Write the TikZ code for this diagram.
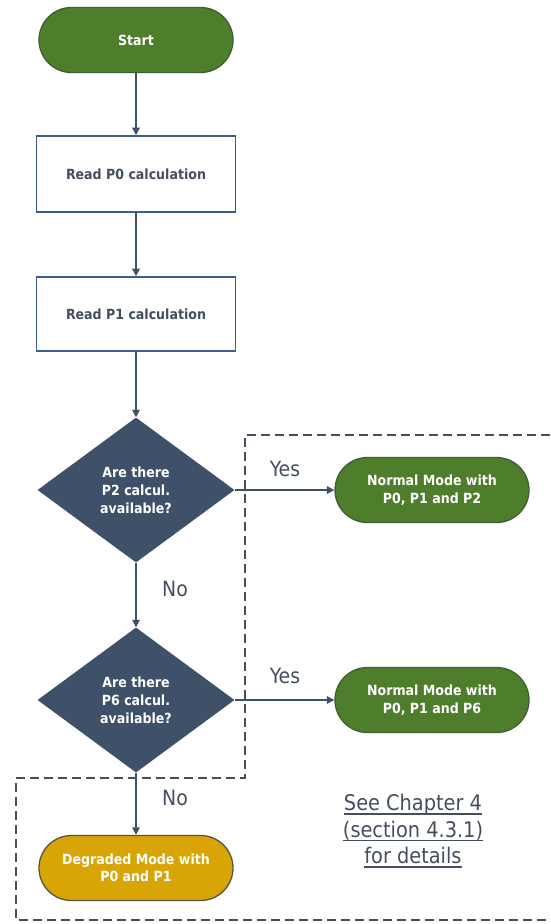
\documentclass[tikz,border=0pt]{standalone}
\usepackage{fontspec}
\setmainfont{DejaVu Sans Condensed}
\usetikzlibrary{shapes.geometric,shapes.misc,arrows.meta}

\definecolor{flowgreen}{HTML}{4E7D2B}
\definecolor{greenedge}{HTML}{3E5F33}
\definecolor{slate}{HTML}{3F5069}
\definecolor{boxedge}{HTML}{3E5C94}
\definecolor{linkink}{HTML}{454E5E}
\definecolor{degraded}{HTML}{D9A406}
\definecolor{degradededge}{HTML}{5A5540}

% underlined line of text with a thicker rule
\newcommand\thickul[1]{\setbox0\hbox{#1}\rlap{\color{linkink}\rule[-4pt]{\wd0}{1.4pt}}\box0}

\tikzset{
  terminal/.style={rounded rectangle, draw=greenedge, line width=1.3pt,
    fill=flowgreen, text=white, font=\bfseries\fontsize{14}{17.5}\selectfont,
    minimum width=198pt, minimum height=65pt, align=center, inner sep=2pt},
  procbox/.style={rectangle, draw=boxedge, line width=1.6pt, fill=white,
    text=linkink, font=\bfseries\fontsize{14}{17.5}\selectfont,
    minimum width=199pt, align=center},
  decision/.style={diamond, fill=slate, text=white,
    font=\bfseries\fontsize{14}{18}\selectfont, align=center,
    minimum width=197pt, minimum height=145pt, inner sep=0pt},
  flow/.style={draw=slate, line width=1.6pt,
    -{Triangle[length=7.5pt,width=7.5pt]}},
  answer/.style={text=linkink, font=\fontsize{21}{24}\selectfont},
  region/.style={draw=linkink, line width=1.6pt, dash pattern=on 9pt off 5pt},
}

\begin{document}
\begin{tikzpicture}[x=1pt,y=-1pt]
\useasboundingbox (0,0) rectangle (550,924);
\fill[white] (0,0) rectangle (550,924);

% dashed region around the fallback branches
\draw[region] (550,435) -| (245,778) -| (16,920) -- (550,920);

% main column
\node[terminal] (start) at (136,40) {Start};
\node[procbox, minimum height=76pt] (p0) at (136,174) {Read P0 calculation};
\node[procbox, minimum height=74pt] (p1) at (136,314) {Read P1 calculation};
\node[decision] (d2) at (136,490) {Are there\\P2 calcul.\\available?};
\node[decision] (d6) at (136,700) {Are there\\P6 calcul.\\available?};
\node[terminal, fill=degraded, draw=degradededge] (deg) at (136,868)
  {Degraded Mode with\\P0 and P1};

% right-hand outcomes
\node[terminal] (n2) at (432,490) {Normal Mode with\\P0, P1 and P2};
\node[terminal] (n6) at (432,700) {Normal Mode with\\P0, P1 and P6};

% connectors
\draw[flow] (start) -- (p0);
\draw[flow] (p0) -- (p1);
\draw[flow] (p1) -- (d2);
\draw[flow] (d2) -- (d6);
\draw[flow] (d6) -- (deg);
\draw[flow] (d2) -- (n2);
\draw[flow] (d6) -- (n6);

% branch labels
\node[answer] (yes2) at (285,469) {Yes};
\node[answer] (yes6) at (285,676) {Yes};
\node[answer] (no2) at (175,589) {No};
\node[answer] (no6) at (175,798) {No};

% reference note
\node[text=linkink, font=\fontsize{21.5}{26.5}\selectfont, align=center] (note) at (413,831)
  {\thickul{See Chapter 4}\\\thickul{(section 4.3.1)}\\\thickul{for details}};
\end{tikzpicture}
\end{document}
